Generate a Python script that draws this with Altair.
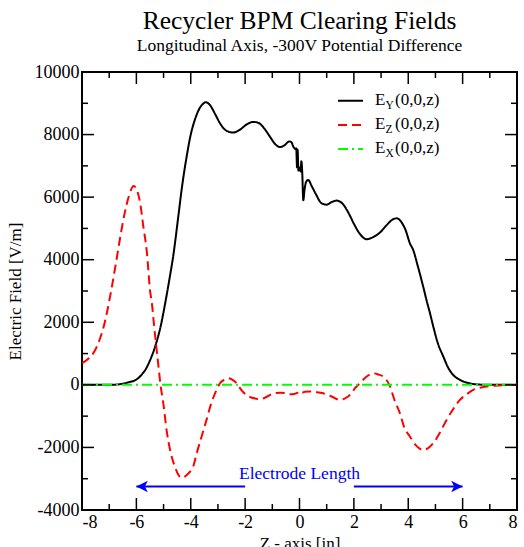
import altair as alt
import pandas as pd

title_text = "Recycler BPM Clearing Fields"
subtitle_text = "Longitudinal Axis, -300V Potential Difference"
x_title = "Z - axis [in]"
y_title = "Electric Field [V/m]"

# E_Y(0,0,z)
z_ey = [-8.0, -7.0, -6.6, -6.3, -6.0, -5.8, -5.67, -5.5, -5.31, -5.1, -4.94, -4.78, -4.63,
        -4.47, -4.32, -4.15, -4.0, -3.85, -3.7, -3.55, -3.45, -3.3, -3.1, -2.93, -2.7, -2.45,
        -2.2, -1.95, -1.7, -1.5, -1.3, -1.1, -0.9, -0.72, -0.55, -0.38, -0.3, -0.23, -0.16,
        -0.12, -0.09, -0.07, -0.04, 0.0, 0.04, 0.07, 0.10, 0.14, 0.18, 0.24, 0.32, 0.45, 0.6,
        0.81, 1.0, 1.2, 1.36, 1.55, 1.8, 2.0, 2.2, 2.47, 2.7, 2.96, 3.2, 3.4, 3.57, 3.75, 3.9,
        4.06, 4.18, 4.35, 4.55, 4.67, 4.8, 4.92, 5.1, 5.29, 5.45, 5.65, 5.9, 6.14, 6.6, 7.0, 8.0]
ey = [0, 0, 20, 80, 170, 330, 480, 780, 1225, 1900, 2610, 3400, 4205,
      5300, 6340, 7300, 8000, 8470, 8800, 8980, 9035, 8950, 8650, 8370, 8130, 8065,
      8150, 8320, 8405, 8370, 8200, 7950, 7700, 7600, 7660, 7780, 7760, 7620, 7540,
      7560, 6950, 7520, 6850, 6950, 6820, 7150, 6800, 5900, 6200, 6480, 6550, 6350, 6100,
      5805, 5760, 5850, 5890, 5820, 5500, 5150, 4850, 4655, 4720, 4870, 5100, 5270, 5325, 5200, 4950,
      4525, 4315, 3800, 3140, 2715, 2290, 1865, 1300, 905, 580, 320, 160, 75, 10, 0, 0]

# E_Z(0,0,z)
z_ez = [-8.0, -7.75, -7.51, -7.35, -7.2, -7.05, -6.9, -6.75, -6.59, -6.44, -6.28, -6.1, -5.95,
        -5.86, -5.75, -5.61, -5.5, -5.43, -5.35, -5.28, -5.2, -5.12, -5.0, -4.89, -4.76, -4.6,
        -4.45, -4.34, -4.2, -4.05, -3.91, -3.78, -3.6, -3.42, -3.25, -3.05, -2.9, -2.74, -2.62,
        -2.45, -2.31, -2.15, -1.95, -1.7, -1.46, -1.2, -0.97, -0.7, -0.5, -0.35, -0.2, -0.08,
        0.0, 0.1, 0.2, 0.38, 0.6, 0.87, 1.2, 1.49, 1.7, 1.91, 2.05, 2.22, 2.45, 2.71, 2.9, 3.08,
        3.33, 3.5, 3.69, 3.85, 4.06, 4.3, 4.55, 4.75, 4.92, 5.15, 5.41, 5.65, 5.9, 6.15, 6.39,
        6.65, 6.88, 7.3, 8.0]
ez = [690, 850, 1120, 1450, 1865, 2450, 3140, 3900, 4740, 5450, 6020, 6360, 6150,
      5805, 5100, 4205, 3035, 2610, 1900, 1330, 700, 50, -650, -1440, -2080, -2580,
      -2880, -2980, -2920, -2800, -2610, -2185, -1650, -1120, -600, -160, 80, 170, 210,
      150, 50, -150, -330, -420, -460, -380, -280, -250, -270, -300, -290, -260,
      -200, -250, -220, -210, -230, -270, -380, -480, -420, -270, -100, 50, 250, 370, 330, 265,
      -50, -500, -900, -1350, -1650, -1950, -2080, -2010, -1865, -1550, -1120, -780, -480, -300, -160,
      -90, -50, -20, 0]

# E_X(0,0,z)
z_ex = [-8.0, 8.0]
ex = [0, 0]

legend_subscripts = ["Y", "Z", "X"]
legend_suffix = "(0,0,z)"
series_colors = ["#000000", "#ff0000", "#00ff00"]
series_dashes = [[1, 0], [9, 5], [10, 4, 2, 4]]

annotation_text = "Electrode Length"
annotation_center = 0
annotation_level = -3010
arrow_from = [-2, 2]
arrow_to = [-6, 6]
arrow_dir = ["L", "R"]
arrow_level = -3250

x_major = list(range(-8, 9, 2))
x_minor = list(range(-7, 8, 2))
y_major = list(range(-4000, 10001, 2000))
y_minor = list(range(-3000, 10000, 2000))

W, H = 435, 438
FONT = "Liberation Serif"
xs = alt.Scale(domain=[-8, 8], nice=False, zero=False)
ys = alt.Scale(domain=[-4000, 10000], nice=False, zero=False)
ax_x = alt.Axis(values=x_major, title=x_title, labelExpr="'' + datum.value",
                labelPadding=3, titlePadding=4)
ax_y = alt.Axis(values=y_major, title=y_title, labelExpr="'' + datum.value",
                labelPadding=3, titlePadding=10)


def X(field="z"):
    return alt.X(f"{field}:Q", scale=xs, axis=ax_x)


def Y(field="E"):
    return alt.Y(f"{field}:Q", scale=ys, axis=ax_y)


def curve(zv, ev, color, dash):
    return alt.Chart(pd.DataFrame({"z": zv, "E": ev})).mark_line(
        color=color, strokeWidth=2, strokeDash=dash, interpolate="monotone", clip=True
    ).encode(x=X(), y=Y())


def xticks(vals, length, top):
    return alt.Chart(pd.DataFrame({"z": vals})).mark_rule(color="black", strokeWidth=1.5).encode(
        x=X(),
        y=alt.value(0 if top else H),
        y2=alt.value(length if top else H - length),
    )


def yticks(vals, length, right):
    return alt.Chart(pd.DataFrame({"E": vals})).mark_rule(color="black", strokeWidth=1.5).encode(
        y=Y(),
        x=alt.value(W if right else 0),
        x2=alt.value(W - length if right else length),
    )


layers = []
layers.append(curve(z_ey, ey, series_colors[0], series_dashes[0]))
layers.append(curve(z_ez, ez, series_colors[1], series_dashes[1]))
layers.append(curve(z_ex, ex, series_colors[2], series_dashes[2]))

for top in (False, True):
    layers.append(xticks(x_major, 12, top))
    layers.append(xticks(x_minor, 6, top))
for right in (False, True):
    layers.append(yticks(y_major, 12, right))
    layers.append(yticks(y_minor, 6, right))

# Electrode length annotation
arrows = pd.DataFrame({"z0": arrow_from, "z": arrow_to, "E": [arrow_level] * 2, "dir": arrow_dir})
layers.append(alt.Chart(arrows).mark_rule(color="#0000ff", strokeWidth=2).encode(
    x=X("z0"), x2="z:Q", y=Y()))
path_l = "M 0 0 L 2 -1 L 1.5 0 L 2 1 Z"
path_r = "M 0 0 L -2 -1 L -1.5 0 L -2 1 Z"
layers.append(alt.Chart(arrows).mark_point(filled=True, size=130, opacity=1, color="#0000ff",
                                           strokeWidth=0).encode(
    x=X(), y=Y(),
    shape=alt.Shape("dir:N", scale=alt.Scale(domain=["L", "R"], range=[path_l, path_r]), legend=None)))
layers.append(alt.Chart(pd.DataFrame({"z": [annotation_center], "E": [annotation_level],
                                      "t": [annotation_text]})).mark_text(
    font=FONT, fontSize=17.5, color="#0000ff", align="center", baseline="alphabetic").encode(
    x=X(), y=Y(), text="t:N"))

# manual legend
for i, sub in enumerate(legend_subscripts):
    ly = 28.7 + 24.2 * i
    base_y = ly + 3.8
    layers.append(alt.Chart(pd.DataFrame({"k": [i]})).mark_rule(
        color=series_colors[i], strokeWidth=2, strokeDash=series_dashes[i]).encode(
        x=alt.value(256), x2=alt.value(281), y=alt.value(ly)))
    layers.append(alt.Chart(pd.DataFrame({"t": ["E"]})).mark_text(
        font=FONT, fontSize=17, color="black", align="left", baseline="alphabetic").encode(
        x=alt.value(293), y=alt.value(base_y), text="t:N"))
    layers.append(alt.Chart(pd.DataFrame({"t": [sub]})).mark_text(
        font=FONT, fontSize=11.5, color="black", align="left", baseline="alphabetic").encode(
        x=alt.value(303.5), y=alt.value(base_y + 4.3), text="t:N"))
    layers.append(alt.Chart(pd.DataFrame({"t": [legend_suffix]})).mark_text(
        font=FONT, fontSize=17, color="black", align="left", baseline="alphabetic").encode(
        x=alt.value(313), y=alt.value(base_y), text="t:N"))

chart = alt.layer(*layers).properties(
    width=W, height=H,
    title=alt.TitleParams(text=title_text, subtitle=subtitle_text, font=FONT, fontSize=25.5,
                          fontWeight="normal", color="black", subtitleFont=FONT,
                          subtitleFontSize=17.5, subtitleColor="black", anchor="middle",
                          offset=9, subtitlePadding=2.5),
    padding={"left": 82, "top": 72, "right": 7, "bottom": 37},
    autosize=alt.AutoSizeParams(type="none"),
).configure_view(stroke="black", strokeWidth=2).configure_axis(
    domain=False, ticks=False, grid=False, labelFont=FONT, labelFontSize=18, labelColor="black",
    titleFont=FONT, titleFontSize=17, titleFontWeight="normal", titleColor="black",
)

chart.save("out.html", embed_options={"renderer": "svg", "actions": False})
